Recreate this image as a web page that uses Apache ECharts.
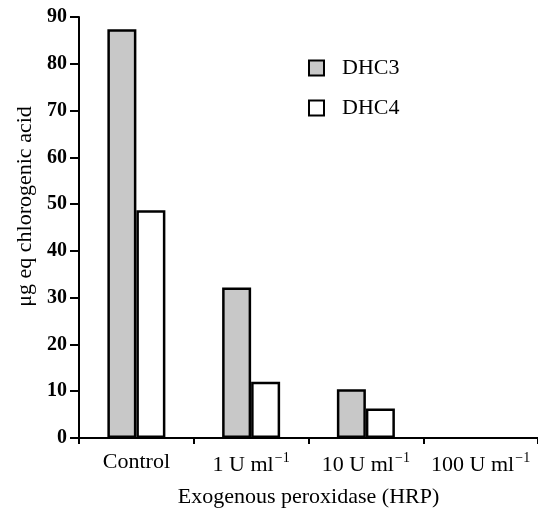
<!DOCTYPE html>
<html><head><meta charset="utf-8">
<script src="https://cdn.jsdelivr.net/npm/echarts@6/dist/echarts.min.js"></script>
<style>html,body{margin:0;padding:0;background:#fff}#c{width:538px;height:517px}</style>
</head><body><div id="c"></div>
<script>
var categories = ['Control', '1 U ml', '10 U ml', '100 U ml'];
var dhc3 = [87.4, 32.2, 10.4, 0];
var dhc4 = [48.7, 12, 6.3, 0];
var yTicks = [0, 10, 20, 30, 40, 50, 60, 70, 80, 90];

function barData(arr) {
  return arr.map(function (v) { return v === 0 ? { value: v, itemStyle: { borderWidth: 0 } } : v; });
}

var font = 'Liberation Serif';
var chart = echarts.init(document.getElementById('c'));
chart.setOption({
  animation: false,
  backgroundColor: '#fff',
  grid: { left: 79, right: 0, top: 17, bottom: 79 },
  legend: {
    orient: 'vertical', left: 303, top: 52, itemWidth: 15, itemHeight: 15, itemGap: 18,
    icon: 'rect',
    itemStyle: { borderColor: '#000', borderWidth: 2 },
    textStyle: { fontFamily: font, fontSize: 22, lineHeight: 22, color: '#000', padding: [0, 0, 0, 13] },
    data: ['DHC3', 'DHC4']
  },
  xAxis: {
    type: 'category', data: categories,
    name: 'Exogenous peroxidase (HRP)', nameLocation: 'middle', nameGap: 48,
    nameTextStyle: { fontFamily: font, fontSize: 22, color: '#000' },
    axisLine: { lineStyle: { color: '#000', width: 2 } },
    axisTick: { show: true, interval: 0, length: 6, lineStyle: { color: '#000', width: 2 } },
    axisLabel: {
      interval: 0, margin: 13, color: '#000', fontFamily: font, fontSize: 22,
      formatter: function (v) { return v === 'Control' ? '{a|' + v + '}' : '{a|' + v + '}{s|\u22121}'; },
      rich: {
        a: { fontFamily: font, fontSize: 22, color: '#000' },
        s: { fontFamily: font, fontSize: 14, color: '#000', padding: [0, 0, 14, 1] }
      }
    }
  },
  yAxis: {
    type: 'value', min: 0, max: 90, interval: 10,
    name: 'μg eq chlorogenic acid', nameLocation: 'middle', nameGap: 43, nameRotate: 90,
    nameTextStyle: { fontFamily: font, fontSize: 22, color: '#000', padding: [0, 0, 0, 42] },
    axisLine: { show: true, lineStyle: { color: '#000', width: 2 } },
    axisTick: { show: true, length: 9, lineStyle: { color: '#000', width: 2 } },
    splitLine: { show: false },
    axisLabel: { margin: 12, color: '#000', fontFamily: font, fontSize: 20, fontWeight: 'bold',
      formatter: function (v) { return yTicks.indexOf(v) >= 0 ? String(v) : ''; } }
  },
  series: [
    { name: 'DHC3', type: 'bar', data: barData(dhc3), barWidth: 29, barGap: '0%',
      itemStyle: { color: '#c8c8c8', borderColor: '#000', borderWidth: 2.5 } },
    { name: 'DHC4', type: 'bar', data: barData(dhc4), barWidth: 29, barGap: '0%',
      itemStyle: { color: '#fff', borderColor: '#000', borderWidth: 2.5 } }
  ]
});
</script></body></html>
